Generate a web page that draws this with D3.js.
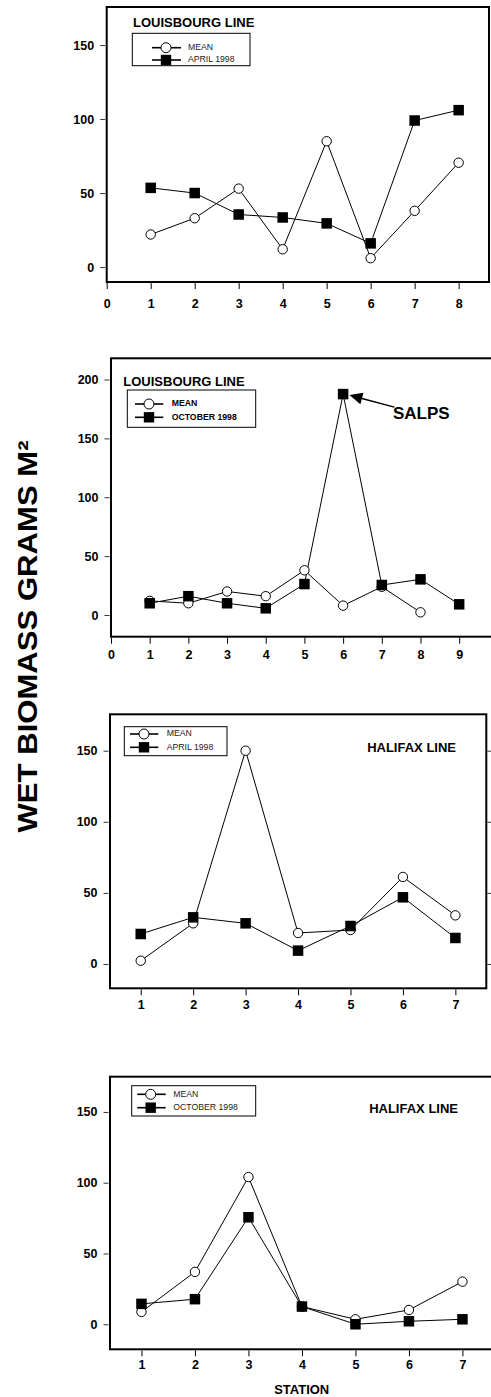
<!DOCTYPE html>
<html><head><meta charset="utf-8">
<script src="https://cdn.jsdelivr.net/npm/d3@7"></script>
<style>body{margin:0;background:#fff}svg{display:block}</style>
</head><body>
<svg id="c" width="491" height="1397"></svg>
<script>
// ---------- DATA ----------
// Panel 1: Louisbourg Line, April 1998
const p1MeanStations = [1, 2, 3, 4, 5, 6, 7, 8];
const p1MeanValues   = [22, 33, 53, 12, 85, 6, 38, 70.5];
const p1SeriesStations = [1, 2, 3, 4, 5, 6, 7, 8];
const p1SeriesValues   = [53.5, 50, 35.5, 33.5, 29.5, 16, 99, 106];
const p1XTicks = [0, 1, 2, 3, 4, 5, 6, 7, 8];
const p1YTicks = [0, 50, 100, 150];
const p1Title = "LOUISBOURG LINE";
const p1Legend = ["MEAN", "APRIL 1998"];

// Panel 2: Louisbourg Line, October 1998
const p2MeanStations = [1, 2, 3, 4, 5, 6, 7, 8];
const p2MeanValues   = [12, 10, 20, 16, 38, 8, 24, 2.3];
const p2SeriesStations = [1, 2, 3, 4, 5, 6, 7, 8, 9];
const p2SeriesValues   = [10, 16, 10, 5.7, 26.3, 187.6, 25.5, 30.3, 9.1];
const p2XTicks = [0, 1, 2, 3, 4, 5, 6, 7, 8, 9];
const p2YTicks = [0, 50, 100, 150, 200];
const p2Title = "LOUISBOURG LINE";
const p2Legend = ["MEAN", "OCTOBER 1998"];
const p2Note = "SALPS";

// Panel 3: Halifax Line, April 1998
const p3MeanStations = [1, 2, 3, 4, 5, 6, 7];
const p3MeanValues   = [2.3, 28.6, 150, 21.8, 23.9, 61.2, 34.2];
const p3SeriesStations = [1, 2, 3, 4, 5, 6, 7];
const p3SeriesValues   = [21.1, 32.8, 28.6, 9.4, 26.7, 46.9, 18.3];
const p3XTicks = [1, 2, 3, 4, 5, 6, 7];
const p3YTicks = [0, 50, 100, 150];
const p3Title = "HALIFAX LINE";
const p3Legend = ["MEAN", "APRIL 1998"];

// Panel 4: Halifax Line, October 1998
const p4MeanStations = [1, 2, 3, 4, 5, 6, 7];
const p4MeanValues   = [8.7, 37, 104, 12.5, 3.5, 10.1, 30.1];
const p4SeriesStations = [1, 2, 3, 4, 5, 6, 7];
const p4SeriesValues   = [14.4, 17.7, 75.6, 12.5, 0, 2.1, 3.5];
const p4XTicks = [1, 2, 3, 4, 5, 6, 7];
const p4YTicks = [0, 50, 100, 150];
const p4Title = "HALIFAX LINE";
const p4Legend = ["MEAN", "OCTOBER 1998"];

const yAxisTitle = "WET BIOMASS GRAMS M²";
const xAxisTitle = "STATION";

// ---------- LAYOUT ----------
const FONT = "'Liberation Sans', Arial, Helvetica, sans-serif";
const svg = d3.select("#c");

const panels = [
  { ms: p1MeanStations, mv: p1MeanValues, ss: p1SeriesStations, sv: p1SeriesValues,
    xt: p1XTicks, yt: p1YTicks, title: p1Title, legend: p1Legend,
    L: 106.7, R: 489, T: 7, B: 282, xd: [0, 8.69], yd: [-10.1, 175.7], xLab: 305, rightTicks: false,
    tx: 133, ty: 27, tAnchor: "start",
    lg: { x: 132.3, y: 33.3, w: 117.7, h: 32.4, l0: 152, l1: 181, sx: 166, tx: 188, r1: 47.7, r2: 60, bold: false } },
  { ms: p2MeanStations, mv: p2MeanValues, ss: p2SeriesStations, sv: p2SeriesValues,
    xt: p2XTicks, yt: p2YTicks, title: p2Title, legend: p2Legend,
    L: 111, R: 494, T: 358.3, B: 636.7, xd: [0, 9.9], yd: [-18.4, 218], xLab: 655.5, rightTicks: false,
    tx: 123.3, ty: 385.5, tAnchor: "start",
    lg: { x: 127.3, y: 390, w: 128.4, h: 37.3, l0: 135, l1: 163.3, sx: 149, tx: 171.7, r1: 404, r2: 417.3, bold: true } },
  { ms: p3MeanStations, mv: p3MeanValues, ss: p3SeriesStations, sv: p3SeriesValues,
    xt: p3XTicks, yt: p3YTicks, title: p3Title, legend: p3Legend,
    L: 110, R: 486.3, T: 714.3, B: 988.3, xd: [0.414, 7.59], yd: [-17.1, 175.6], xLab: 1005.5, rightTicks: true,
    tx: 456, ty: 751.7, tAnchor: "end",
    lg: { x: 124.3, y: 726.7, w: 102.7, h: 29, l0: 130, l1: 158.3, sx: 144, tx: 166.7, r1: 734, r2: 747.3, bold: false } },
  { ms: p4MeanStations, mv: p4MeanValues, ss: p4SeriesStations, sv: p4SeriesValues,
    xt: p4XTicks, yt: p4YTicks, title: p4Title, legend: p4Legend,
    L: 110, R: 494, T: 1076.7, B: 1349.3, xd: [0.412, 7.59], yd: [-17.7, 174.9], xLab: 1365.5, rightTicks: false,
    tx: 458, ty: 1112.7, tAnchor: "end",
    lg: { x: 131.7, y: 1085.7, w: 124, h: 30.3, l0: 137.3, l1: 165.7, sx: 150.7, tx: 173.3, r1: 1094.3, r2: 1107.7, bold: false } }
];

const R_CIRC = 4.7, SQ = 10.5;

panels.forEach((p, i) => {
  const x = d3.scaleLinear().domain(p.xd).range([p.L, p.R]);
  const y = d3.scaleLinear().domain(p.yd).range([p.B, p.T]);
  const g = svg.append("g");

  // frame
  g.append("rect").attr("x", p.L).attr("y", p.T).attr("width", p.R - p.L).attr("height", p.B - p.T)
    .attr("fill", "none").attr("stroke", "#000").attr("stroke-width", 2);

  // y axis
  const ya = g.append("g").attr("transform", `translate(${p.L - 1.5},0)`)
    .call(d3.axisLeft(y).tickValues(p.yt).tickSize(5).tickPadding(6).tickFormat(d3.format("d")));
  ya.select(".domain").remove();
  ya.selectAll("line").attr("stroke-width", 0.8);
  ya.selectAll("text").attr("font-family", FONT).attr("font-weight", "bold").attr("font-size", 12.5).attr("fill", "#000");

  if (p.rightTicks) {
    const ra = g.append("g").attr("transform", `translate(${p.R + 1},0)`)
      .call(d3.axisRight(y).tickValues(p.yt).tickSize(5).tickFormat(""));
    ra.select(".domain").remove();
    ra.selectAll("line").attr("stroke-width", 0.8);
  }

  // x axis
  const xa = g.append("g").attr("transform", `translate(0,${p.B + 1})`)
    .call(d3.axisBottom(x).tickValues(p.xt).tickSize(6).tickPadding(0).tickFormat(d3.format("d")));
  xa.select(".domain").remove();
  xa.selectAll("line").attr("stroke-width", 1);
  xa.selectAll("text").attr("font-family", FONT).attr("font-weight", "bold").attr("font-size", 12.5).attr("fill", "#000")
    .attr("dy", null).attr("y", p.xLab - p.B - 1).attr("dominant-baseline", "middle");

  // lines
  const line = d3.line().x(d => x(d[0])).y(d => y(d[1]));
  const meanPts = p.ms.map((s, k) => [s, p.mv[k]]);
  const serPts = p.ss.map((s, k) => [s, p.sv[k]]);
  g.append("path").datum(meanPts).attr("d", line).attr("fill", "none").attr("stroke", "#000").attr("stroke-width", 1);
  g.append("path").datum(serPts).attr("d", line).attr("fill", "none").attr("stroke", "#000").attr("stroke-width", 1);

  g.selectAll(".mc").data(meanPts).join("circle").attr("cx", d => x(d[0])).attr("cy", d => y(d[1]))
    .attr("r", R_CIRC).attr("fill", "#fff").attr("stroke", "#000").attr("stroke-width", 1);
  g.selectAll(".sq").data(serPts).join("rect")
    .attr("x", d => x(d[0]) - SQ / 2).attr("y", d => y(d[1]) - SQ / 2)
    .attr("width", SQ).attr("height", SQ).attr("fill", "#000");

  // title
  g.append("text").attr("x", p.tx).attr("y", p.ty).attr("text-anchor", p.tAnchor)
    .attr("font-family", FONT).attr("font-weight", "bold").attr("font-size", 13).text(p.title);

  // legend
  const lg = p.lg;
  g.append("rect").attr("x", lg.x).attr("y", lg.y).attr("width", lg.w).attr("height", lg.h)
    .attr("fill", "#fff").attr("stroke", "#000").attr("stroke-width", 1);
  [lg.r1, lg.r2].forEach((ry, k) => {
    g.append("line").attr("x1", lg.l0).attr("x2", lg.l1).attr("y1", ry).attr("y2", ry)
      .attr("stroke", "#000").attr("stroke-width", 1.6);
    if (k === 0) {
      g.append("circle").attr("cx", lg.sx).attr("cy", ry).attr("r", 5)
        .attr("fill", "#fff").attr("stroke", "#000").attr("stroke-width", 1);
    } else {
      g.append("rect").attr("x", lg.sx - 5.2).attr("y", ry - 5.2).attr("width", 10.4).attr("height", 10.4).attr("fill", "#000");
    }
    g.append("text").attr("x", lg.tx).attr("y", ry).attr("dominant-baseline", "middle")
      .attr("font-family", FONT).attr("font-weight", lg.bold ? "bold" : "normal")
      .attr("font-size", 8.7).attr("fill", lg.bold ? "#000" : "#222").text(p.legend[k]);
  });

  // SALPS annotation on panel 2
  if (i === 1) {
    const k = p.sv.indexOf(d3.max(p.sv));
    const px = x(p.ss[k]) + SQ / 2 + 1, py = y(p.sv[k]) + 1;
    const sx = px + 45, sy = py + 12;
    const ang = Math.atan2(sy - py, sx - px);
    const hl = 13, hw = 6;
    const bx = px + Math.cos(ang) * hl, by = py + Math.sin(ang) * hl;
    g.append("line").attr("x1", sx).attr("y1", sy).attr("x2", bx).attr("y2", by)
      .attr("stroke", "#000").attr("stroke-width", 1.5);
    g.append("path").attr("d",
      `M${px},${py} L${bx - Math.sin(ang) * hw},${by + Math.cos(ang) * hw} L${bx + Math.sin(ang) * hw},${by - Math.cos(ang) * hw} Z`)
      .attr("fill", "#000");
    g.append("text").attr("x", 393).attr("y", 419).attr("font-family", FONT).attr("font-weight", "bold")
      .attr("font-size", 17).text(p2Note);
  }
});

// axis titles
svg.append("text").attr("transform", "translate(37,636.5) rotate(-90)").attr("text-anchor", "middle")
  .attr("font-family", FONT).attr("font-weight", "bold").attr("font-size", 27)
  .attr("textLength", 392).attr("lengthAdjust", "spacingAndGlyphs").text(yAxisTitle);
svg.append("text").attr("x", 301.7).attr("y", 1394).attr("text-anchor", "middle")
  .attr("font-family", FONT).attr("font-weight", "bold").attr("font-size", 13).text(xAxisTitle);
</script>
</body></html>
